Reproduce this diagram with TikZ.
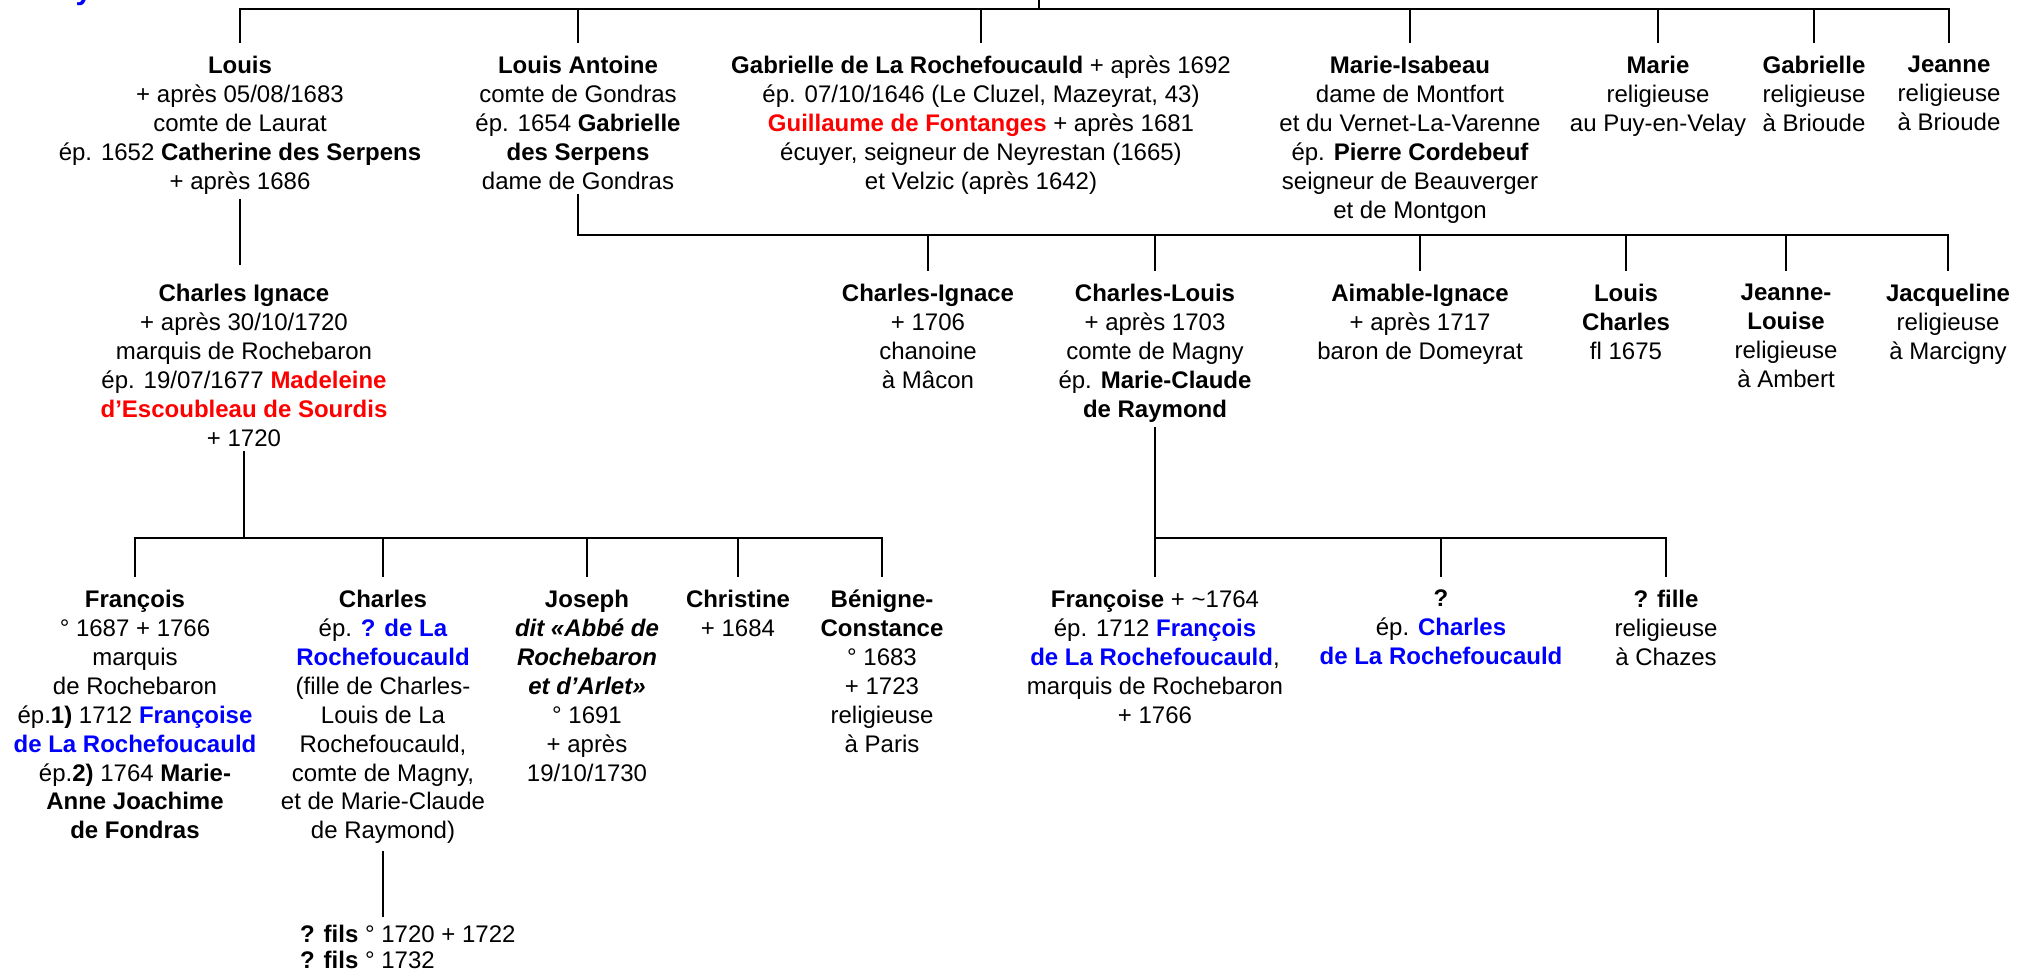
\documentclass[tikz,border=0pt]{standalone}
\usepackage{fontspec}
\setmainfont{Liberation Sans}
\definecolor{rred}{RGB}{255,0,0}
\definecolor{bblue}{RGB}{0,0,255}
\newcommand{\rb}[1]{\textcolor{rred}{\textbf{#1}}}
\newcommand{\bbl}[1]{\textcolor{bblue}{\textbf{#1}}}
\begin{document}
\begin{tikzpicture}[x=1pt,y=-1pt,
  person/.style={anchor=north,align=center,inner sep=0pt,font=\fontsize{24}{28.9}\selectfont},
  link/.style={line width=2.6pt,line cap=rect,draw=black}]
\useasboundingbox (0,0) rectangle (2017,970);

% fragment of text cut at the top
\node[anchor=base,inner sep=0pt,text=bblue,font=\fontsize{30}{30}\selectfont\bfseries] (frag) at (84,-1) {y};

% ---------- generation 1 ----------
\node[person] (louis) at (240,56) {\textbf{Louis}\\+ après 05/08/1683\\comte de Laurat\\ép. 1652 \textbf{Catherine des Serpens}\\+ après 1686};
\node[person] (lantoine) at (578,56) {\textbf{Louis Antoine}\\comte de Gondras\\ép. 1654 \textbf{Gabrielle}\\\textbf{des Serpens}\\dame de Gondras};
\node[person] (gabrielleR) at (981,56) {\textbf{Gabrielle de La Rochefoucauld} + après 1692\\ép. 07/10/1646 (Le Cluzel, Mazeyrat, 43)\\\rb{Guillaume de Fontanges} + après 1681\\écuyer, seigneur de Neyrestan (1665)\\et Velzic (après 1642)};
\node[person] (mariei) at (1410,56) {\textbf{Marie-Isabeau}\\dame de Montfort\\et du Vernet-La-Varenne\\ép. \textbf{Pierre Cordebeuf}\\seigneur de Beauverger\\et de Montgon};
\node[person] (marie) at (1658,56) {\textbf{Marie}\\religieuse\\au Puy-en-Velay};
\node[person] (gabrielle) at (1814,56) {\textbf{Gabrielle}\\religieuse\\à Brioude};
\node[person] (jeanne) at (1949,56) {\textbf{Jeanne}\\religieuse\\à Brioude};

% ---------- generation 2 ----------
\node[person] (charlesI) at (244,284) {\textbf{Charles Ignace}\\+ après 30/10/1720\\marquis de Rochebaron\\ép. 19/07/1677 \rb{Madeleine}\\\rb{d’Escoubleau de Sourdis}\\+ 1720};
\node[person] (cignace) at (928,284) {\textbf{Charles-Ignace}\\+ 1706\\chanoine\\à Mâcon};
\node[person] (clouis) at (1155,284) {\textbf{Charles-Louis}\\+ après 1703\\comte de Magny\\ép. \textbf{Marie-Claude}\\\textbf{de Raymond}};
\node[person] (aimable) at (1420,284) {\textbf{Aimable-Ignace}\\+ après 1717\\baron de Domeyrat};
\node[person] (lcharles) at (1626,284) {\textbf{Louis}\\\textbf{Charles}\\fl 1675};
\node[person] (jlouise) at (1786,284) {\textbf{Jeanne-}\\\textbf{Louise}\\religieuse\\à Ambert};
\node[person] (jacq) at (1948,284) {\textbf{Jacqueline}\\religieuse\\à Marcigny};

% ---------- generation 3 ----------
\node[person] (francois) at (135,590) {\textbf{François}\\° 1687 + 1766\\marquis\\de Rochebaron\\ép.\textbf{1)} 1712 \bbl{Françoise}\\\bbl{de La Rochefoucauld}\\ép.\textbf{2)} 1764 \textbf{Marie-}\\\textbf{Anne Joachime}\\\textbf{de Fondras}};
\node[person] (charles) at (383,590) {\textbf{Charles}\\ép. \bbl{? de La}\\\bbl{Rochefoucauld}\\(fille de Charles-\\Louis de La\\Rochefoucauld,\\comte de Magny,\\et de Marie-Claude\\de Raymond)};
\node[person] (joseph) at (587,590) {\textbf{Joseph}\\\textbf{\textit{dit «Abbé de}}\\\textbf{\textit{Rochebaron}}\\\textbf{\textit{et d’Arlet»}}\\° 1691\\+ après\\19/10/1730};
\node[person] (christine) at (738,590) {\textbf{Christine}\\+ 1684};
\node[person] (benigne) at (882,590) {\textbf{Bénigne-}\\\textbf{Constance}\\° 1683\\+ 1723\\religieuse\\à Paris};
\node[person] (francoise) at (1155,590) {\textbf{Françoise} + \textasciitilde1764\\ép. 1712 \bbl{François}\\\bbl{de La Rochefoucauld},\\marquis de Rochebaron\\+ 1766};
\node[person] (inconnue) at (1441,590) {\textbf{?}\\ép. \bbl{Charles}\\\bbl{de La Rochefoucauld}};
\node[person] (fille) at (1666,590) {\textbf{? fille}\\religieuse\\à Chazes};

% ---------- generation 4 ----------
\node[anchor=north west,align=left,inner sep=0pt,font=\fontsize{24}{25.7}\selectfont] (fils) at (300,925) {\textbf{? fils} ° 1720 + 1722\\\textbf{? fils} ° 1732};

% ---------- connectors ----------
\coordinate (root) at (1039,0);
\coordinate (bus0) at (1039,9);
\coordinate (bus1) at (0,235);
\coordinate (bus2) at (0,538);
\coordinate (ciTop) at (0,264);

\draw[link] (root) -- (bus0);
\draw[link] ([yshift=14pt]louis.north) -- (louis.north |- bus0) -- (jeanne.north |- bus0) -- ([yshift=14pt]jeanne.north);
\foreach \n in {lantoine,gabrielleR,mariei,marie,gabrielle}
  \draw[link] ([yshift=14pt]\n.north) -- (\n.north |- bus0);

\draw[link] ([yshift=-6pt]louis.south) -- (louis.south |- ciTop);

\draw[link] ([yshift=-6pt]lantoine.south) -- (lantoine.south |- bus1) -- (jacq.north |- bus1) -- ([yshift=14pt]jacq.north);
\foreach \n in {cignace,clouis,aimable,lcharles,jlouise}
  \draw[link] ([yshift=14pt]\n.north) -- (\n.north |- bus1);

\draw[link] ([yshift=-6pt]charlesI.south) -- (charlesI.south |- bus2);
\draw[link] ([yshift=14pt]francois.north) -- (francois.north |- bus2) -- (benigne.north |- bus2) -- ([yshift=14pt]benigne.north);
\foreach \n in {charles,joseph,christine}
  \draw[link] ([yshift=14pt]\n.north) -- (\n.north |- bus2);

\draw[link] ([yshift=-6pt]clouis.south) -- (clouis.south |- bus2) -- (fille.north |- bus2) -- ([yshift=14pt]fille.north);
\foreach \n in {francoise,inconnue}
  \draw[link] ([yshift=14pt]\n.north) -- (\n.north |- bus2);

\draw[link] ([yshift=-8pt]charles.south) -- ([yshift=9pt]charles.south |- fils.north);
\end{tikzpicture}
\end{document}
